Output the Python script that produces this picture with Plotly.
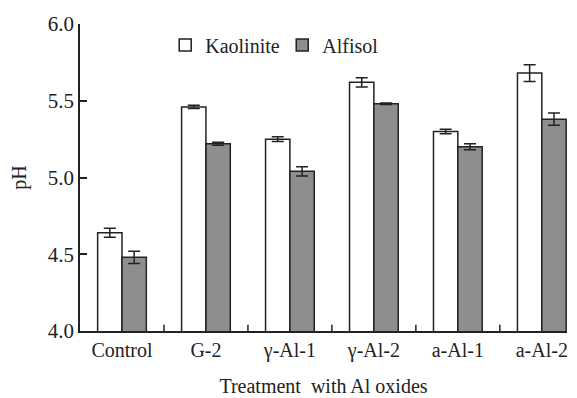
import plotly.graph_objects as go

# Soil pH after treatment with aluminium oxides
treatments = ["Control", "G-2", "γ-Al-1", "γ-Al-2", "a-Al-1", "a-Al-2"]
kaolinite = [4.64, 5.46, 5.25, 5.62, 5.30, 5.68]
kaolinite_err = [0.03, 0.01, 0.015, 0.03, 0.015, 0.055]
alfisol = [4.48, 5.22, 5.04, 5.48, 5.20, 5.38]
alfisol_err = [0.04, 0.01, 0.03, 0.005, 0.02, 0.04]

serif = "Liberation Serif, Times New Roman, serif"
x_idx = list(range(len(treatments)))

fig = go.Figure()
fig.add_trace(go.Bar(
    x=x_idx, y=kaolinite, name="Kaolinite",
    marker=dict(color="white", line=dict(color="#222222", width=1.5)),
    error_y=dict(type="data", array=kaolinite_err, color="#222222", thickness=1.5, width=6),
))
fig.add_trace(go.Bar(
    x=x_idx, y=alfisol, name="Alfisol",
    marker=dict(color="#8e8e90", line=dict(color="#222222", width=1.5)),
    error_y=dict(type="data", array=alfisol_err, color="#222222", thickness=1.5, width=6),
))

fig.update_layout(
    width=577, height=398,
    margin=dict(l=80, r=10, t=24, b=67),
    paper_bgcolor="white", plot_bgcolor="white",
    barmode="group", bargap=0.42, bargroupgap=0,
    font=dict(family=serif, size=20, color="#222222"),
    showlegend=True,
    legend=dict(orientation="h", x=0.175, y=0.995, xanchor="left", yanchor="top",
                font=dict(size=20), bgcolor="rgba(0,0,0,0)", traceorder="normal",
                entrywidth=72, entrywidthmode="pixels"),
    xaxis=dict(
        range=[-0.5, 5.3], automargin=False,
        tickmode="array", tickvals=x_idx, ticktext=treatments,
        ticks="", showline=True, linecolor="#222222", linewidth=1.5,
        showgrid=False, zeroline=False,
        title=dict(text="Treatment  with Al oxides", font=dict(size=20), standoff=18),
        tickfont=dict(size=20),
    ),
    yaxis=dict(
        range=[4.0, 6.0], automargin=False,
        tickmode="array", tickvals=[4.0, 4.5, 5.0, 5.5, 6.0],
        ticktext=["4.0", "4.5", "5.0", "5.5", "6.0"],
        ticks="inside", ticklen=7, tickwidth=1.5, tickcolor="#222222",
        showline=True, linecolor="#222222", linewidth=1.5,
        showgrid=False, zeroline=False,
        title=dict(text="pH", font=dict(size=20), standoff=16),
        tickfont=dict(size=21),
    ),
)

# Separator ticks between treatment groups on the x axis
for b in [0.5, 1.5, 2.5, 3.5, 4.5]:
    fig.add_shape(type="line", xref="x", yref="paper", x0=b, x1=b, y0=0, y1=0.02,
                  line=dict(color="#222222", width=1.5))

fig.write_html("out.html")
